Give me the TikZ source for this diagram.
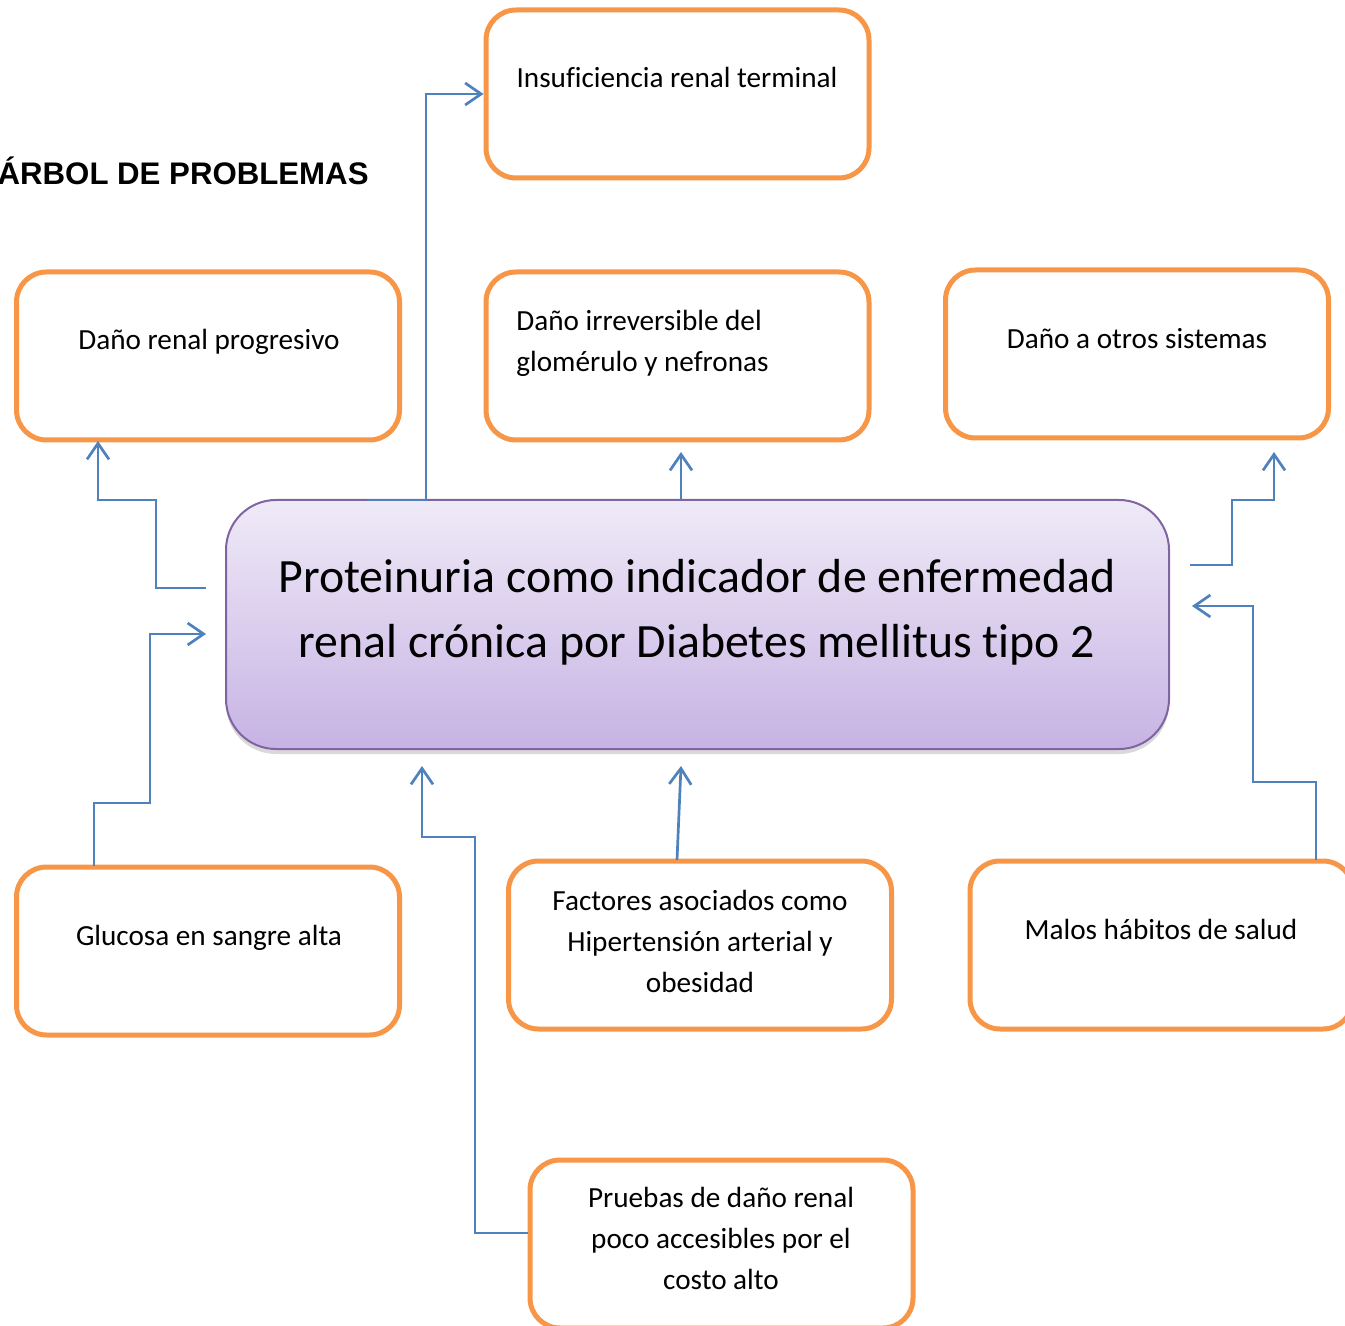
\documentclass[tikz,border=0pt]{standalone}
\usepackage{fontspec}
\setmainfont{Carlito}[Ligatures={NoCommon}]
\newfontfamily\titlefont{Liberation Sans}
\usetikzlibrary{arrows.meta,shadows,calc}
\definecolor{orangeC}{HTML}{F79646}
\definecolor{blueC}{HTML}{4F81BD}
\definecolor{purpleB}{HTML}{8064A2}
\definecolor{purpleT}{HTML}{EFEAF7}
\definecolor{purpleD}{HTML}{C7B3E4}
\begin{document}
\begin{tikzpicture}[x=0.5pt,y=-0.5pt,
  obox/.style={draw=orangeC, line width=2.5pt, rounded corners=15pt, fill=white,
    minimum width=191.5pt, minimum height=84pt, inner sep=0pt},
  txt/.style={font=\fontsize{14.6}{20.5}\selectfont, align=center, inner sep=0pt, anchor=north},
  bigtxt/.style={font=\fontsize{23.9}{32.5}\selectfont, align=center, inner sep=0pt, anchor=north},
  conn/.style={draw=blueC, line width=1.35pt, line join=miter,
    -{Straight Barb[length=8pt,width=11pt,line width=1.35pt]}}]
\useasboundingbox (0,0) rectangle (1345,1326);
\clip (0,0) rectangle (1345,1326);

% title
\node[font=\titlefont\bfseries\fontsize{15.6}{18}\selectfont, inner sep=0pt, anchor=base east] (title) at (369,185) {ÁRBOL DE PROBLEMAS};

% central problem
\node[draw=purpleB, line width=1pt, rounded corners=25pt,
  top color=purpleT, bottom color=purpleD,
  drop shadow={opacity=0.25, shadow xshift=0pt, shadow yshift=-2.5pt, fill=black!60},
  minimum width=471.5pt, minimum height=124.5pt, inner sep=0pt] (c) at (697.5,624.5) {};
\node[bigtxt] (ct) at (697,546.5) {\strut Proteinuria como indicador de enfermedad\\\strut renal crónica por Diabetes mellitus tipo 2};

% effect boxes
\node[obox] (b1) at (677.5,94) {};
\node[txt] (t1) at (677,58.3) {\strut Insuficiencia renal terminal};
\node[obox] (b2) at (208,356) {};
\node[txt] (t2) at (209,320.3) {\strut Daño renal progresivo};
\node[obox] (b3) at (677.5,356) {};
\node[txt, anchor=north west, align=left] (t3) at (516,301.3) {\strut Daño irreversible del\\\strut glomérulo y nefronas};
\node[obox] (b4) at (1137,354) {};
\node[txt] (t4) at (1137,319.3) {\strut Daño a otros sistemas};

% cause boxes
\node[obox] (b5) at (208,951) {};
\node[txt] (t5) at (209,916.3) {\strut Glucosa en sangre alta};
\node[obox] (b6) at (700,945) {};
\node[txt] (t6) at (700,881.3) {\strut Factores asociados como\\\strut Hipertensión arterial y\\\strut obesidad};
\node[obox] (b7) at (1161.5,945) {};
\node[txt] (t7) at (1161,910.3) {\strut Malos hábitos de salud};
\node[obox] (b8) at (721.5,1244) {};
\node[txt] (t8) at (721,1178.3) {\strut Pruebas de daño renal\\\strut poco accesibles por el\\\strut costo alto};

% connector ends
\coordinate (s1) at (367,500);
\coordinate (s2) at (206,588);
\coordinate (e2) at (98,441);
\coordinate (s3) at (681,500);
\coordinate (e3) at (681,452);
\coordinate (s4) at (1190,565);
\coordinate (e4) at (1274,452);
\coordinate (s5) at (94,866);
\coordinate (e5) at (206,634);
\coordinate (s6) at (677,860);
\coordinate (e6) at (681,766);
\coordinate (s7) at (1316,860);
\coordinate (e7) at (1192,606);
\coordinate (s8) at (528,1233);
\coordinate (e8) at (422,766);

% connectors
\draw[conn] (s1) -- (426,500) |- (b1.west);
\draw[conn] (s2) -- (156,588) -- (156,500) -- (98,500) -- (e2);
\draw[conn] (s3) -- (e3);
\draw[conn] (s4) -- (1232,565) -- (1232,500) -- (1274,500) -- (e4);
\draw[conn] (s5) -- (94,803) -- (150,803) -- (150,634) -- (e5);
\draw[conn] (s6) -- (e6);
\draw[conn] (s7) -- (1316,782) -- (1253,782) -- (1253,606) -- (e7);
\draw[conn] (s8) -- (475,1233) -- (475,837) -- (422,837) -- (e8);
\end{tikzpicture}
\end{document}
